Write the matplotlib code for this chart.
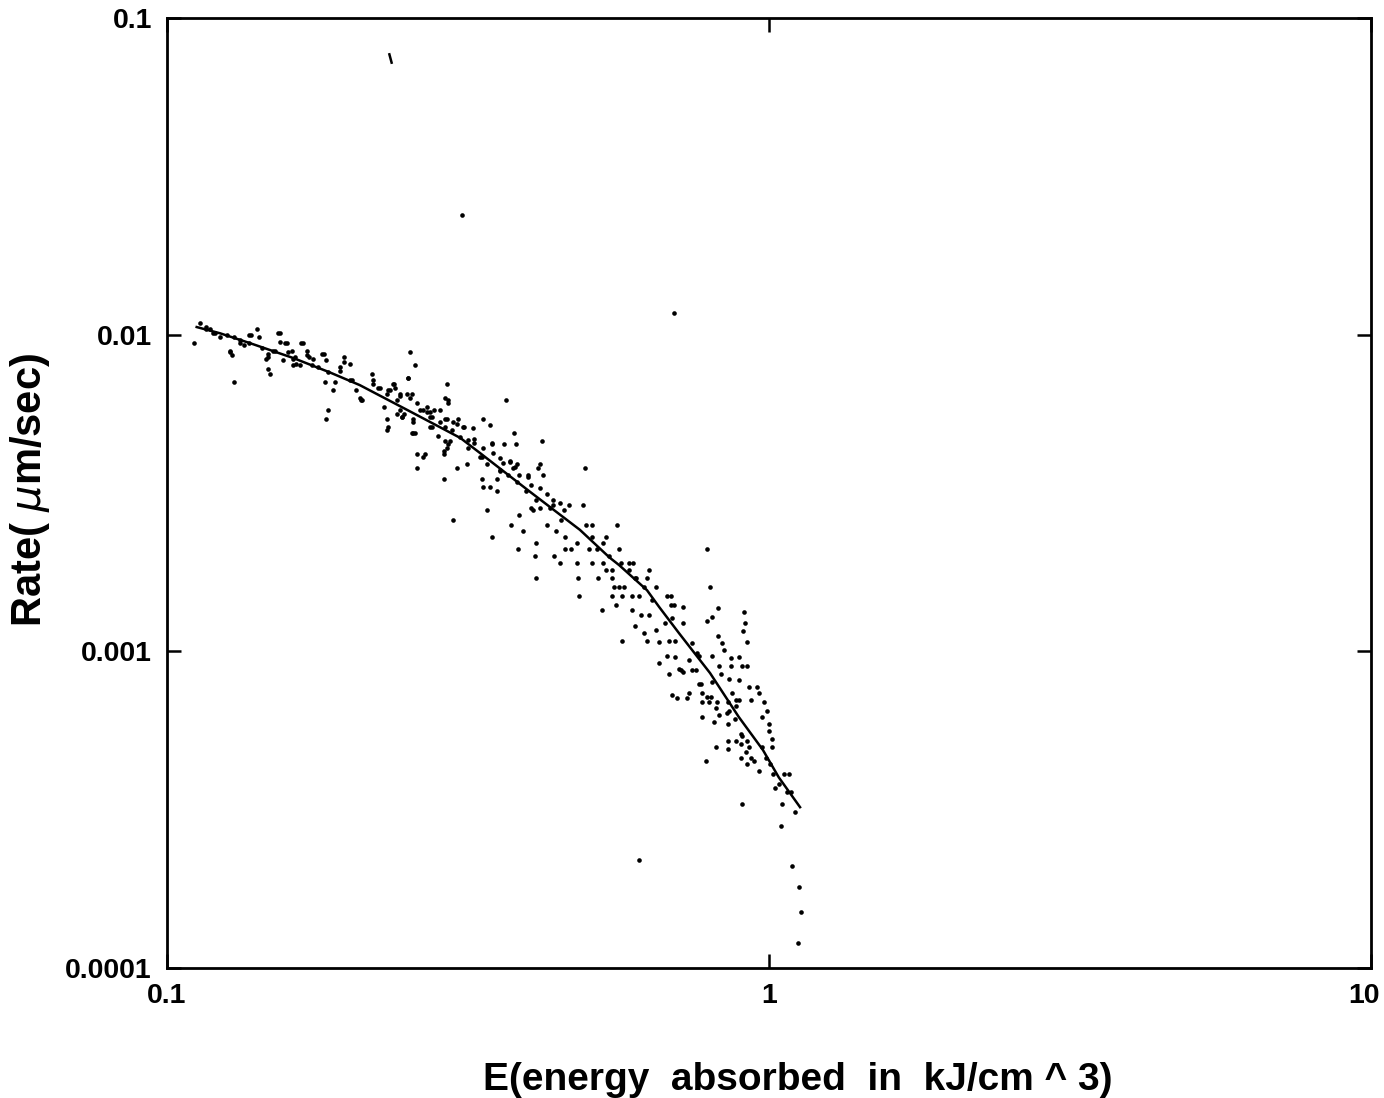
import matplotlib
matplotlib.use("Agg")
import matplotlib.pyplot as plt
import matplotlib.transforms as mtransforms

# fitted curve
fit_energy = [0.112, 0.1225, 0.1374, 0.162, 0.1864, 0.209, 0.253, 0.307, 0.331, 0.400, 0.485,
              0.543, 0.564, 0.627, 0.657, 0.709, 0.798, 0.891, 0.977, 1.038, 1.126]
fit_rate = [0.01057, 0.0101, 0.0094, 0.00844, 0.0076, 0.00693, 0.00573, 0.00472, 0.00423, 0.0032, 0.00242,
            0.00198, 0.00187, 0.00156, 0.00138, 0.00114, 0.000854, 0.00062, 0.000488, 0.0004, 0.000322]

# measured points (energy kJ/cm^3, rate um/sec)
energy = [
    0.1135, 0.116, 0.118, 0.120, 0.111, 0.127, 0.128, 0.129, 0.134, 0.132, 0.141, 0.142, 0.137,
    0.147, 0.146, 0.147, 0.148, 0.151, 0.154, 0.154, 0.157, 0.159, 0.156, 0.162, 0.162, 0.166,
    0.168, 0.171, 0.175, 0.178, 0.181, 0.183, 0.185, 0.189, 0.185, 0.184, 0.194, 0.197, 0.201,
    0.206, 0.209, 0.211, 0.219, 0.220, 0.226, 0.235, 0.229, 0.232, 0.233, 0.241, 0.244, 0.250,
    0.248, 0.253, 0.258, 0.251, 0.256, 0.260, 0.268, 0.260, 0.270, 0.273, 0.276, 0.284, 0.292,
    0.290, 0.293, 0.292, 0.288, 0.288, 0.303, 0.293, 0.298,
    0.238, 0.232, 0.244, 0.255, 0.232, 0.246, 0.256, 0.255, 0.266, 0.273, 0.304, 0.310, 0.295,
    0.288, 0.266, 0.315, 0.316, 0.324, 0.335, 0.344, 0.366, 0.377, 0.363, 0.380, 0.419, 0.347,
    0.331, 0.340, 0.357, 0.353, 0.333, 0.335, 0.344, 0.353, 0.371, 0.376, 0.382, 0.397, 0.413,
    0.421, 0.416, 0.494, 0.340, 0.299, 0.347, 0.373, 0.385, 0.390, 0.405, 0.410, 0.383, 0.408,
    0.410, 0.427, 0.437, 0.443, 0.452, 0.459, 0.449, 0.440, 0.469, 0.479, 0.481, 0.484, 0.490,
    0.466, 0.497, 0.509, 0.517, 0.537, 0.543, 0.560, 0.564, 0.519, 0.549, 0.564, 0.595, 0.600,
    0.632, 0.650, 0.687, 0.570,
    0.479, 0.459, 0.509, 0.529, 0.503, 0.509, 0.529, 0.537, 0.549, 0.568, 0.586, 0.586, 0.553,
    0.549, 0.575, 0.591, 0.602, 0.609, 0.627, 0.620, 0.639, 0.677, 0.687, 0.695, 0.527, 0.557,
    0.591, 0.613, 0.632, 0.570, 0.598, 0.620, 0.627, 0.648, 0.657, 0.673, 0.689, 0.698, 0.720,
    0.720, 0.682, 0.657, 0.677, 0.698, 0.714, 0.720, 0.737, 0.756, 0.746, 0.765, 0.682, 0.690,
    0.703, 0.737, 0.731, 0.789, 0.798, 0.789, 0.804, 0.823, 0.823, 0.836, 0.842, 0.804, 0.826,
    0.833, 0.865, 0.891, 0.865, 0.901, 0.918, 0.772, 0.804, 0.789, 0.820, 0.868, 0.881, 0.926,
    0.955, 0.962, 0.933, 0.980, 0.991, 0.908, 0.912, 0.905, 0.918, 0.775, 0.811, 0.852, 0.878,
    0.901, 0.898, 0.973, 0.999, 1.01, 1.01, 0.855, 0.817,
    0.709, 0.746, 0.759, 0.765, 0.775, 0.801, 0.775, 0.795, 0.817, 0.826, 0.855, 0.858, 0.855,
    0.858, 0.891, 0.891, 0.881, 0.999, 0.898, 0.918, 0.855, 0.785, 0.881, 0.898, 0.915, 0.933,
    0.944, 0.918, 0.962, 0.926, 0.973, 0.988, 1.005, 1.016, 1.023, 1.038, 1.058, 1.078, 1.07,
    1.086, 1.05, 1.106, 0.901, 1.046, 1.09, 1.12, 1.128, 1.116, 0.609,
    0.309, 0.695,
]
rate = [
    0.0109, 0.0106, 0.0104, 0.0101, 0.0094, 0.0089, 0.0086, 0.0071, 0.0093, 0.0096, 0.0104, 0.0098, 0.00995,
    0.0087, 0.0084, 0.0078, 0.0075, 0.0089, 0.0101, 0.0095, 0.0094, 0.0088, 0.0083, 0.0084, 0.0080, 0.0080,
    0.0094, 0.0086, 0.0084, 0.0079, 0.0087, 0.0071, 0.0076, 0.00667, 0.0058, 0.0054, 0.0077, 0.0082, 0.0072,
    0.0067, 0.0063, 0.0062, 0.0075, 0.0072, 0.0068, 0.0067, 0.0059, 0.0054, 0.0051, 0.0062, 0.0058, 0.0065,
    0.0056, 0.0088, 0.0080, 0.0073, 0.0049, 0.0042, 0.0042, 0.0038, 0.0059, 0.0055, 0.0051, 0.0058, 0.0070,
    0.0063, 0.0061, 0.0054, 0.0042, 0.0035, 0.0038, 0.0045, 0.0053,
    0.0070, 0.0065, 0.0064, 0.0065, 0.0050, 0.0055, 0.0054, 0.0049, 0.0058, 0.0057, 0.0054, 0.0051, 0.0046,
    0.0043, 0.0041, 0.0039, 0.0044, 0.0047, 0.0054, 0.0052, 0.0062, 0.0049, 0.0045, 0.0045, 0.0046, 0.0045,
    0.0041, 0.0039, 0.0037, 0.0035, 0.0035, 0.0033, 0.0033, 0.0032, 0.0040, 0.0038, 0.0039, 0.0036, 0.0038,
    0.0036, 0.0039, 0.0038, 0.0028, 0.0026, 0.0023, 0.0025, 0.0027, 0.0024, 0.0028, 0.0022, 0.0021, 0.0020,
    0.0017, 0.0025, 0.0029, 0.0024, 0.0026, 0.0023, 0.0019, 0.0020, 0.0021, 0.0019, 0.0017, 0.0015, 0.0029,
    0.0029, 0.0025, 0.0023, 0.0021, 0.0023, 0.0020, 0.0025, 0.0021, 0.0017, 0.0017, 0.0016, 0.0019, 0.0017,
    0.0018, 0.0016, 0.0015, 0.0015,
    0.0022, 0.0021, 0.0025, 0.0022, 0.0021, 0.0019, 0.0019, 0.0018, 0.0018, 0.0019, 0.0019, 0.0018, 0.0016,
    0.0015, 0.0016, 0.0015, 0.0017, 0.0015, 0.0017, 0.0016, 0.00145, 0.0015, 0.0014, 0.0014, 0.00135, 0.0014,
    0.00135, 0.0013, 0.0013, 0.00108, 0.0012, 0.00114, 0.00108, 0.00117, 0.00107, 0.00123, 0.00127, 0.00108, 0.00138,
    0.00123, 0.00108, 0.00092, 0.00097, 0.00096, 0.00087, 0.00086, 0.00094, 0.00087, 0.00106, 0.00097, 0.00085, 0.00073,
    0.00071, 0.00074, 0.00071, 0.0021, 0.0016, 0.00125, 0.00128, 0.00137, 0.00112, 0.00106, 0.00101, 0.00097, 0.0009,
    0.00085, 0.00095, 0.00096, 0.0009, 0.0009, 0.0009, 0.00079, 0.00080, 0.00072, 0.00069, 0.00074, 0.0007, 0.00077,
    0.00077, 0.00074, 0.0007, 0.00069, 0.00065, 0.00133, 0.00123, 0.00116, 0.00107, 0.00062, 0.0006, 0.00064, 0.00061,
    0.00054, 0.00051, 0.00062, 0.00059, 0.00053, 0.0005, 0.00052, 0.0005,
    0.00088, 0.00087, 0.00099, 0.00079, 0.00074, 0.00072, 0.00069, 0.00069, 0.00066, 0.00063, 0.00059, 0.00065, 0.00069,
    0.00082, 0.00081, 0.0007, 0.00067, 0.00056, 0.00055, 0.00052, 0.00049, 0.00045, 0.00052, 0.00046, 0.00048, 0.00046,
    0.00045, 0.00044, 0.00042, 0.0005, 0.0005, 0.00046, 0.00044, 0.00041, 0.00037, 0.00038, 0.00041, 0.00041, 0.00036,
    0.00036, 0.00033, 0.00031, 0.00033, 0.00028, 0.00021, 0.00018, 0.00015, 0.00012, 0.00022,
    0.0238, 0.0117,
]

# extra points packed close along the curve
energy_band = [
    0.116, 0.119, 0.1225, 0.126, 0.129, 0.127, 0.132, 0.138, 0.137, 0.144, 0.147, 0.150, 0.153,
    0.158, 0.161, 0.163, 0.164, 0.167, 0.171, 0.172, 0.174,
    0.182, 0.184, 0.197, 0.194, 0.201, 0.190, 0.203, 0.210, 0.220, 0.224, 0.233, 0.237, 0.239,
    0.244, 0.251, 0.241, 0.246, 0.253, 0.260, 0.263, 0.270, 0.278, 0.276, 0.284, 0.290, 0.293,
    0.290, 0.297, 0.256, 0.258, 0.273, 0.282, 0.290, 0.292,
    0.303, 0.311, 0.322, 0.307, 0.316, 0.324, 0.335, 0.347, 0.334, 0.348, 0.357, 0.361, 0.371,
    0.378, 0.357, 0.368, 0.385, 0.397, 0.381, 0.403, 0.416, 0.394, 0.427, 0.437, 0.410, 0.449,
    0.403, 0.457, 0.432, 0.416,
]
rate_band = [
    0.0104, 0.0101, 0.0098, 0.00995, 0.0098, 0.0088, 0.0094, 0.00995, 0.0094, 0.0091, 0.0085, 0.0089, 0.0101,
    0.0094, 0.0089, 0.0085, 0.0081, 0.0094, 0.0089, 0.0085, 0.0080,
    0.0087, 0.0083, 0.0085, 0.0079, 0.0081, 0.0071, 0.0072, 0.0062, 0.0070, 0.0068, 0.0067, 0.0070, 0.0068,
    0.0065, 0.0073, 0.0056, 0.0055, 0.0063, 0.0061, 0.0058, 0.0057, 0.0058, 0.0055, 0.0053, 0.0054, 0.0062,
    0.0051, 0.0050, 0.0053, 0.0049, 0.0051, 0.0048, 0.0046, 0.0044,
    0.00524, 0.0051, 0.00506, 0.00474, 0.00464, 0.00455, 0.00438, 0.00455, 0.0041, 0.00422, 0.00407, 0.00393, 0.00396,
    0.00382, 0.00373, 0.0036, 0.0036, 0.00355, 0.00342, 0.00334, 0.00327, 0.00322, 0.00314, 0.0030, 0.0030, 0.00293,
    0.00283, 0.00279, 0.00283, 0.00283,
]

# stray dash near the top
stray_energy = [0.235]
stray_rate = [0.0746]

x_ticks = [0.1, 1, 10]
x_tick_labels = ["0.1", "1", "10"]
y_ticks = [0.0001, 0.001, 0.01, 0.1]
y_tick_labels = ["0.0001", "0.001", "0.01", "0.1"]

plt.rcParams['font.family'] = ['Liberation Sans', 'DejaVu Sans']

fig = plt.figure(figsize=(13.84, 10.98), dpi=100)
ax = fig.add_axes([0.1207, 0.1184, 0.8699, 0.8652])

ax.scatter(energy, rate, s=11, color='black', marker='o', linewidths=0)
ax.scatter(energy_band, rate_band, s=11, color='black', marker='o', linewidths=0)
ax.plot(stray_energy, stray_rate, linestyle='none', marker=(2, 0, 15), markersize=8,
        markeredgewidth=1.8, color='black')
ax.plot(fit_energy, fit_rate, color='black', linewidth=1.8)

ax.set_xscale('log')
ax.set_yscale('log')
ax.set_xlim(0.1, 10)
ax.set_ylim(0.0001, 0.1)

ax.set_xticks(x_ticks)
ax.set_xticklabels(x_tick_labels)
ax.set_yticks(y_ticks)
ax.set_yticklabels(y_tick_labels)
ax.minorticks_off()
ax.tick_params(direction='in', length=10, width=1.8, top=True, right=True,
               labelsize=20.5, pad=11)
for lbl in ax.get_xticklabels() + ax.get_yticklabels():
    lbl.set_fontweight('bold')

# keep the "10" label inside the image
last = ax.get_xticklabels()[-1]
last.set_transform(last.get_transform() + mtransforms.ScaledTranslation(-5 / 72, 0, fig.dpi_scale_trans))

for sp in ax.spines.values():
    sp.set_linewidth(2)

fig.text(0.5766, 0.0164, 'E(energy  absorbed  in  kJ/cm ^ 3)', fontsize=28,
         fontweight='bold', ha='center', va='center')
fig.text(0.0217, 0.5537, r'Rate( $\mu$m/sec)', fontsize=30, fontweight='bold',
         ha='center', va='center', rotation=90)

fig.savefig('out.png', dpi=100)
